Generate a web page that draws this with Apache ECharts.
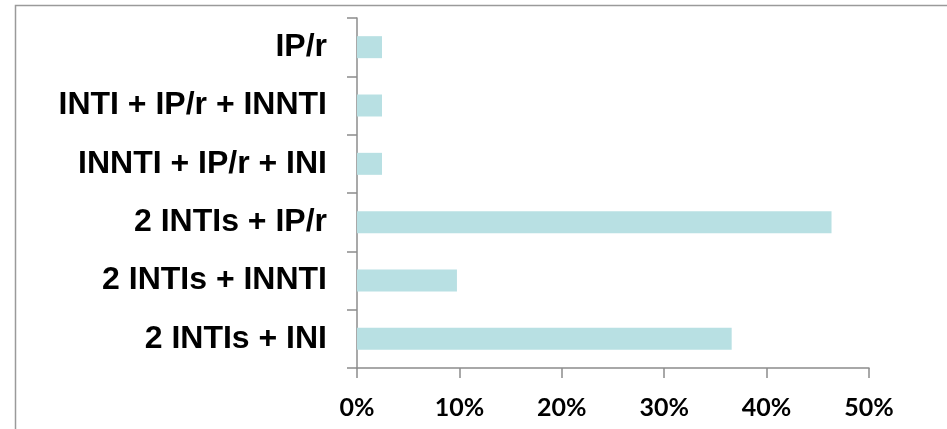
<!DOCTYPE html>
<html>
<head>
<meta charset="utf-8">
<script src="https://cdn.jsdelivr.net/npm/echarts@6/dist/echarts.min.js"></script>
<style>
html,body{margin:0;padding:0;background:#fff;}
#chart{width:947px;height:429px;}
</style>
</head>
<body>
<div id="chart"></div>
<script>
const categories = ["IP/r", "INTI + IP/r + INNTI", "INNTI + IP/r + INI", "2 INTIs + IP/r", "2 INTIs + INNTI", "2 INTIs + INI"];
const values = [2.44, 2.44, 2.44, 46.34, 9.76, 36.59];
const xTicks = [0, 10, 20, 30, 40, 50];

const chart = echarts.init(document.getElementById('chart'));
chart.setOption({
  animation: false,
  backgroundColor: '#ffffff',
  grid: { left: 357, right: 78, top: 18, bottom: 61, containLabel: false },
  graphic: [{
    type: 'rect',
    shape: { x: 15.5, y: 5.5, width: 1000, height: 1000 },
    style: { fill: 'none', stroke: '#9a9a9a', lineWidth: 1.5 },
    silent: true
  }],
  xAxis: {
    type: 'value',
    min: xTicks[0],
    max: xTicks[xTicks.length - 1],
    interval: 10,
    splitLine: { show: false },
    axisLine: { show: true, lineStyle: { color: '#8c8c8c', width: 1.5 } },
    axisTick: { show: true, length: 10, inside: false, lineStyle: { color: '#8c8c8c', width: 1.5 } },
    axisLabel: {
      formatter: v => v + '%',
      color: '#000',
      fontFamily: 'Lato',
      fontWeight: 'bold',
      fontSize: 25,
      margin: 27
    }
  },
  yAxis: {
    type: 'category',
    data: categories,
    inverse: true,
    axisLine: { show: true, lineStyle: { color: '#8c8c8c', width: 1.5 } },
    axisTick: { show: true, length: 10, lineStyle: { color: '#8c8c8c', width: 1.5 } },
    axisLabel: {
      color: '#000',
      fontFamily: 'Liberation Sans',
      fontWeight: 'bold',
      fontSize: 32,
      margin: 30
    }
  },
  series: [{
    type: 'bar',
    data: values,
    barWidth: 22,
    itemStyle: { color: '#b8e0e3' }
  }]
});
</script>
</body>
</html>
